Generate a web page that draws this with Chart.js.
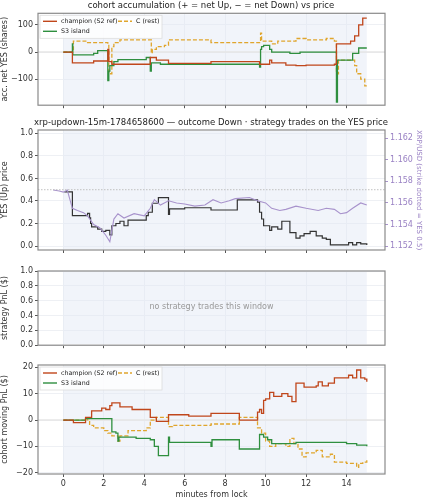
<!DOCTYPE html>
<html>
<head>
<meta charset="utf-8">
<script src="https://cdn.jsdelivr.net/npm/chart.js@4.4.1/dist/chart.umd.min.js"></script>
<style>
  body { margin: 0; background: #fff; width: 423px; height: 500px; overflow: hidden; }
  .panel { position: absolute; left: 0; width: 423px; }
</style>
</head>
<body>
<div class="panel" style="top:0;height:112px"><canvas id="c1"></canvas></div>
<div class="panel" style="top:112px;height:146px"><canvas id="c2"></canvas></div>
<div class="panel" style="top:258px;height:94px"><canvas id="c3"></canvas></div>
<div class="panel" style="top:352px;height:148px"><canvas id="c4"></canvas></div>
<script>
// panel 1: accumulated net YES shares (time in minutes, value from that time on)
const accChampT = [0, 0.45, 1.5, 2.2, 2.25, 2.4, 4.3, 4.6, 5.2, 7.3, 9.7, 10.2, 10.3, 11, 11.5, 12, 13.4, 13.5, 14, 14.2, 14.4, 14.6, 14.8, 15];
const accChampV = [0, -40, -33, 10, -35, -45, -20, -30, -42, -35, -45, -30, -40, -48, -50, -48, -45, 30, 30, 40, 60, 100, 125, 125];
const accS3T = [0, 0.45, 0.47, 1.5, 1.7, 2.2, 2.25, 2.3, 2.5, 2.7, 4.1, 4.3, 4.35, 4.8, 7.3, 9.7, 9.75, 9.8, 9.9, 10.2, 10.3, 11.2, 11.7, 13.5, 13.55, 13.6, 14.3, 14.4, 14.6, 15];
const accS3V = [0, 30, -10, -5, 5, -105, -70, -50, -35, -28, -20, -70, -40, -45, -45, -55, 10, 20, 25, 10, 0, -5, 0, -185, -30, -30, -5, -5, 15, 15];
const accCT = [0, 0.45, 0.5, 1.2, 2.2, 2.25, 2.4, 2.5, 2.8, 4.3, 4.35, 4.4, 4.6, 5.0, 5.2, 7.3, 9.7, 9.75, 9.8, 10.3, 10.6, 11.5, 12, 13, 13.4, 13.5, 13.6, 14.2, 14.4, 14.5, 14.7, 14.9, 15];
const accCV = [0, 0, 40, 35, 30, -80, 20, 35, 45, 45, -5, 10, 20, 25, 45, 35, 35, 70, 40, 30, 40, 50, 45, 50, 40, -80, -30, -30, -50, -80, -100, -125, -125];

// panel 2: YES price (steps) and XRP/USD
const yesT = [0.05, 0.45, 1.2, 1.3, 1.35, 1.4, 1.7, 1.9, 2.1, 2.3, 2.4, 2.6, 2.8, 3.0, 3.2, 4.1, 4.2, 4.4, 4.7, 5.2, 5.25, 6.0, 7.3, 8.6, 9.6, 9.7, 9.8, 9.9, 10.2, 10.3, 10.6, 10.8, 11.2, 11.5, 11.7, 11.9, 12.2, 12.5, 12.8, 13.0, 13.2, 13.4, 14.1, 14.3, 14.5, 14.7, 15];
const yesV = [0.48, 0.27, 0.29, 0.25, 0.2, 0.17, 0.15, 0.13, 0.14, 0.1, 0.18, 0.2, 0.22, 0.18, 0.23, 0.27, 0.3, 0.38, 0.43, 0.28, 0.33, 0.34, 0.32, 0.41, 0.39, 0.3, 0.24, 0.18, 0.14, 0.17, 0.15, 0.22, 0.12, 0.07, 0.09, 0.11, 0.13, 0.09, 0.07, 0.06, 0.01, 0.01, 0.03, 0.01, 0.03, 0.02, 0.01];
const xrpT = [-0.5, -0.2, 0, 0.2, 0.3, 0.45, 0.7, 1.0, 1.2, 1.5, 1.8, 2.1, 2.3, 2.5, 2.7, 3.0, 3.5, 4.0, 4.3, 4.5, 4.8, 5.2, 5.6, 6.0, 6.5, 7.0, 7.4, 7.8, 8.2, 8.5, 9.2, 9.6, 10.0, 10.3, 10.7, 11.0, 11.5, 12.0, 12.6, 13.0, 13.4, 13.7, 14.0, 14.3, 14.7, 15.0];
const xrpV = [1.1572, 1.1571, 1.1570, 1.1572, 1.1565, 1.1555, 1.1553, 1.1551, 1.1548, 1.1540, 1.1537, 1.1530, 1.1524, 1.1545, 1.1550, 1.1546, 1.1550, 1.1548, 1.1555, 1.1563, 1.1558, 1.1562, 1.1560, 1.1559, 1.1557, 1.1558, 1.1563, 1.1560, 1.1562, 1.1564, 1.1565, 1.1562, 1.1560, 1.1555, 1.1553, 1.1554, 1.1557, 1.1555, 1.1553, 1.1555, 1.1554, 1.1550, 1.1551, 1.1555, 1.1560, 1.1558];

// panel 4: cohort moving PnL
const pnlChampT = [0, 0.5, 1.1, 1.4, 1.9, 2.1, 2.3, 2.4, 2.8, 3.4, 4.3, 4.6, 5.2, 6.2, 7.3, 8.7, 9.6, 9.7, 9.8, 9.9, 10.0, 10.2, 10.4, 10.8, 11.1, 11.3, 11.5, 11.9, 12.5, 12.6, 12.8, 13.1, 13.4, 14.1, 14.3, 14.5, 14.7, 14.9, 15];
const pnlChampV = [0, -1, 1, 3.5, 4.5, 4, 5.5, 6.5, 5, 4, 1, -0.5, 2, 1.5, 2.5, 0, 3, 4, 2.5, 7.5, 8, 10.5, 9, 10, 9, 7, 14, 12.5, 13, 14.5, 13, 14, 16, 17, 16, 19, 16, 15.5, 14.5];
const pnlS3T = [0, 1.1, 2.3, 2.4, 2.6, 2.7, 2.75, 3.6, 4.3, 4.5, 4.7, 5.2, 5.25, 7.3, 7.35, 8.7, 9.7, 9.9, 10.1, 10.3, 11.5, 13.5, 14.0, 14.5, 15];
const pnlS3V = [0, 0.5, 0.5, -4.5, -5, -8, -6.5, -7, -7.5, -10, -13.5, -6.5, -8.5, -10, -7.5, -11, -5.5, -6.5, -7.5, -9, -8.5, -8.5, -9, -9.5, -10];
const pnlCT = [0, 1.2, 1.3, 1.5, 2.0, 2.2, 2.4, 2.7, 2.8, 3.2, 4.1, 4.3, 4.6, 5.2, 5.4, 7.3, 8.7, 9.6, 9.8, 10.0, 10.2, 10.5, 11.0, 11.2, 11.4, 11.6, 11.8, 12.0, 12.5, 12.8, 13.2, 13.4, 14.0, 14.5, 14.6, 14.8, 15];
const pnlCV = [0, 0.5, -2, -3, -4, -5, -6, -8, -6, -4, -3, 0, 1, -2.5, -2, -1.5, 1, -3, -5, -8, -10, -9, -10, -7, -9, -11, -14, -12.5, -11.5, -14, -13, -16, -16.5, -18, -16.5, -16, -15];

const xTicks = [0, 2, 4, 6, 8, 10, 12, 14];
const X_MIN = -1.25, X_MAX = 15.9;

const FONT = 'DejaVu Sans';
const C_CHAMP = '#c0461b', C_S3 = '#2f8f3f', C_REST = '#e0a52c', C_XRP = '#a893cc';
Chart.defaults.font.family = FONT;
Chart.defaults.font.size = 8;
Chart.defaults.color = '#333';
Chart.defaults.animation = false;
Chart.defaults.responsive = true;
Chart.defaults.maintainAspectRatio = false;

const pts = (t, v) => t.map((x, i) => ({ x, y: v[i] }));
const minus = s => String(s).replace('-', '\u2212');

// shaded window, frame, title, legend, note
const decor = {
  id: 'decor',
  beforeDatasetsDraw(chart) {
    const { ctx, chartArea: a, scales: { x } } = chart;
    ctx.save();
    ctx.fillStyle = 'rgba(225,230,245,0.45)';
    const x0 = x.getPixelForValue(0), x1 = x.getPixelForValue(15);
    ctx.fillRect(x0, a.top + 1, x1 - x0, a.bottom - a.top - 2);
    ctx.restore();
  },
  afterDraw(chart, args, o) {
    const { ctx, chartArea: a } = chart;
    ctx.save();
    ctx.strokeStyle = '#8a8a8a';
    ctx.lineWidth = 1.2;
    ctx.strokeRect(a.left, a.top, a.right - a.left, a.bottom - a.top);
    ctx.fillStyle = '#222';
    ctx.font = '8.5px ' + FONT;
    ctx.textAlign = 'center';
    if (o.title) ctx.fillText(o.title, 211, a.top - 5);
    if (o.note) {
      ctx.fillStyle = '#999';
      ctx.font = '8px ' + FONT;
      ctx.textBaseline = 'middle';
      ctx.fillText(o.note, (a.left + a.right) / 2, (a.top + a.bottom) / 2 - 1);
    }
    if (o.legend) {
      ctx.fillStyle = 'rgba(255,255,255,0.8)';
      ctx.strokeStyle = '#ddd';
      ctx.lineWidth = 0.8;
      ctx.fillRect(a.left + 2, a.top + 2, 122, 23);
      ctx.strokeRect(a.left + 2, a.top + 2, 122, 23);
      const items = [
        [chart.data.datasets[0], a.left + 5, a.top + 8],
        [chart.data.datasets[2], a.left + 80, a.top + 8],
        [chart.data.datasets[1], a.left + 5, a.top + 18]
      ];
      ctx.textAlign = 'left';
      ctx.textBaseline = 'middle';
      ctx.font = '6.3px ' + FONT;
      items.forEach(([ds, lx, ly]) => {
        ctx.strokeStyle = ds.borderColor;
        ctx.lineWidth = 1.4;
        ctx.setLineDash(ds.borderDash || []);
        ctx.beginPath(); ctx.moveTo(lx, ly); ctx.lineTo(lx + 14, ly); ctx.stroke();
        ctx.setLineDash([]);
        ctx.fillStyle = '#222';
        ctx.fillText(ds.label, lx + 18, ly);
      });
    }
    ctx.restore();
  }
};

function xScale(showLabels, height) {
  return {
    type: 'linear', min: X_MIN, max: X_MAX,
    afterBuildTicks: s => { s.ticks = xTicks.map(v => ({ value: v })); },
    afterFit: s => { s.height = height; },
    grid: { color: '#eef0f4', tickLength: 3, tickColor: '#555' },
    border: { display: false },
    ticks: { display: showLabels, color: '#333', padding: 2, maxRotation: 0 },
    title: { display: showLabels, text: 'minutes from lock', padding: 0, font: { size: 8 } }
  };
}
function yScale(min, max, ticks, title, fmt, width) {
  return {
    type: 'linear', min, max,
    afterBuildTicks: s => { s.ticks = ticks.map(v => ({ value: v })); },
    afterFit: s => { s.width = width; },
    grid: { color: '#eef0f4', tickLength: 3, tickColor: '#555' },
    border: { display: false },
    ticks: { color: '#333', padding: 2, callback: fmt },
    title: { display: true, text: title, padding: 0, font: { size: 8 } }
  };
}
function stepDs(label, data, color, dash) {
  return { label, data, borderColor: color, borderWidth: 1.3, stepped: 'before', pointRadius: 0, borderDash: dash || [], yAxisID: 'y' };
}
const zeroLine = (y, dash) => ({ label: '', data: [{ x: X_MIN, y }, { x: X_MAX, y }], borderColor: dash ? '#bbb' : '#e6e6e6', borderWidth: dash ? 0.9 : 1.5, borderDash: dash ? [1.5, 1.5] : [], pointRadius: 0, yAxisID: 'y' });
const noLegend = { legend: { display: false }, tooltip: { enabled: false } };

// panel 1
new Chart(document.getElementById('c1'), {
  type: 'line',
  data: { datasets: [
    stepDs('champion (S2 ref)', pts(accChampT, accChampV), C_CHAMP),
    stepDs('S3 island', pts(accS3T, accS3V), C_S3),
    stepDs('C (rest)', pts(accCT, accCV), C_REST, [4, 2]),
    zeroLine(0)
  ] },
  options: {
    layout: { padding: { top: 13.3, right: 38, left: 0, bottom: 0 } },
    scales: { x: xScale(false, 3.7), y: yScale(-196, 143, [-100, 0, 100], 'acc. net YES (shares)', v => minus(v), 38) },
    plugins: { ...noLegend, decor: { title: 'cohort accumulation (+ = net Up, \u2212 = net Down) vs price', legend: true } }
  },
  plugins: [decor]
});

// panel 2
new Chart(document.getElementById('c2'), {
  type: 'line',
  data: { datasets: [
    zeroLine(0.5, true),
    { label: 'XRP/USD', data: pts(xrpT, xrpV), borderColor: C_XRP, borderWidth: 1.1, pointRadius: 0, yAxisID: 'y2' },
    { label: 'YES', data: pts(yesT, yesV), borderColor: '#333', borderWidth: 1.2, stepped: 'before', pointRadius: 0, yAxisID: 'y' }
  ] },
  options: {
    layout: { padding: { top: 18, right: 0, left: 0, bottom: 0 } },
    scales: {
      x: xScale(false, 8),
      y: yScale(-0.035, 1.03, [0, 0.2, 0.4, 0.6, 0.8, 1.0], 'YES (Up) price', v => v.toFixed(1), 38),
      y2: {
        type: 'linear', position: 'right', min: 1.15163, max: 1.16277,
        afterBuildTicks: s => { s.ticks = [1.152, 1.154, 1.156, 1.158, 1.160, 1.162].map(v => ({ value: v })); },
        afterFit: s => { s.width = 38; },
        grid: { drawOnChartArea: false, tickLength: 3, tickColor: C_XRP },
        border: { display: false },
        ticks: { color: '#9a82c4', padding: 2, callback: v => v.toFixed(3) },
        title: { display: true, text: 'XRP/USD (strike dotted = YES 0.5)', color: '#9a82c4', padding: 0, font: { size: 7 } }
      }
    },
    plugins: { ...noLegend, decor: { title: 'xrp-updown-15m-1784658600 \u2014 outcome Down \u00b7 strategy trades on the YES price' } }
  },
  plugins: [decor]
});

// panel 3
new Chart(document.getElementById('c3'), {
  type: 'line',
  data: { datasets: [] },
  options: {
    layout: { padding: { top: 13, right: 38, left: 0, bottom: 0 } },
    scales: { x: xScale(false, 6.3), y: yScale(0, 1, [0, 0.2, 0.4, 0.6, 0.8, 1.0], 'strategy PnL ($)', v => v.toFixed(1), 38) },
    plugins: { ...noLegend, decor: { note: 'no strategy trades this window' } }
  },
  plugins: [decor]
});

// panel 4
new Chart(document.getElementById('c4'), {
  type: 'line',
  data: { datasets: [
    stepDs('champion (S2 ref)', pts(pnlChampT, pnlChampV), C_CHAMP),
    stepDs('S3 island', pts(pnlS3T, pnlS3V), C_S3),
    stepDs('C (rest)', pts(pnlCT, pnlCV), C_REST, [4, 2]),
    zeroLine(0)
  ] },
  options: {
    layout: { padding: { top: 13, right: 38, left: 0, bottom: 0 } },
    scales: { x: xScale(true, 26), y: yScale(-20.5, 20.9, [-20, -10, 0, 10, 20], 'cohort moving PnL ($)', v => minus(v), 38) },
    plugins: { ...noLegend, decor: { legend: true } }
  },
  plugins: [decor]
});
</script>
</body>
</html>
